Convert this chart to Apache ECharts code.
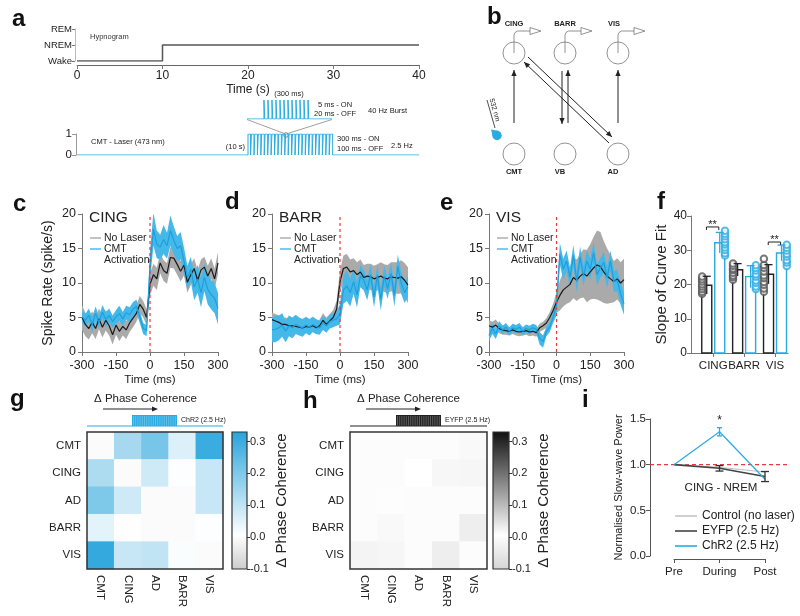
<!DOCTYPE html>
<html>
<head>
<meta charset="utf-8">
<script src="https://cdn.jsdelivr.net/npm/echarts@6/dist/echarts.min.js"></script>
<style>
html,body{margin:0;padding:0;background:#fff;}
#chart{width:800px;height:616px;}
</style>
</head>
<body>
<div id="chart"></div>
<script>
// ================= DATA =================
// Panel a
const hypnoStates = ['Wake', 'NREM', 'REM'];
const hypnoTimes = [0, 10, 10, 40];
const hypnoLevels = [0, 0, 1, 1];
const laserOnsets = [20.0,20.4,20.8,21.2,21.6,22.0,22.4,22.8,23.2,23.6,24.0,24.4,24.8,25.2,25.6,26.0,26.4,26.8,27.2,27.6,28.0,28.4,28.8,29.2,29.6]; // s
const laserOnDur = 0.3; // s
const burstOnsets = [0,25,50,75,100,125,150,175,200,225,250,275]; // ms
const burstOnDur = 5; // ms

// Panels c-e (time bins, ms)
const timeMs = [-300,-285,-270,-255,-240,-225,-210,-195,-180,-165,-150,-135,-120,-105,-90,-75,-60,-45,-30,-15,0,15,30,45,60,75,90,105,120,135,150,165,180,195,210,225,240,255,270,285,300];

const cingNoLaser = [5.0,4.0,3.4,4.3,3.4,4.8,3.6,4.6,3.8,2.5, 3.9,3.0,3.7,3.2,4.2,4.9,5.6,6.9,6.2,5.0, 9.8,11.2,10.6,12.9,11.8,11.4,13.7,13.6,12.7,11.7, 12.6,10.1,11.2,12.1,10.4,11.9,12.3,11.0,12.1,10.6, 12.9];
const cingNoLaserSem = [1.8,1.7,1.6,1.6,1.5,1.5,1.5,1.5,1.4,1.4, 1.4,1.4,1.3,1.3,1.3,1.3,1.2,1.2,1.2,1.2, 1.6,1.6,1.6,1.5,1.5,1.5,1.5,1.5,1.5,1.5, 1.5,1.5,1.5,1.5,1.5,1.5,1.5,1.5,1.5,1.5, 1.6];
const cingCmt = [5.1,4.6,5.3,4.0,5.6,4.3,5.8,4.7,5.3,4.4, 5.1,5.6,4.8,5.7,5.4,6.2,6.6,5.1,3.4,3.1, 12.5,17.8,15.6,15.2,16.3,15.4,17.6,16.2,15.0,15.4, 13.2,10.8,12.0,9.4,10.6,8.6,10.8,9.1,8.3,7.8, 6.3];
const cingCmtSem = [0.9,0.9,1.0,1.1,1.0,0.9,1.0,1.1,1.0,0.9, 1.0,1.1,1.0,1.0,1.1,1.0,1.0,0.9,0.8,0.8, 2.2,2.4,2.0,1.8,2.1,1.9,2.2,2.0,1.8,2.0, 1.9,1.7,1.8,1.9,2.0,2.1,2.0,2.2,2.1,2.2, 2.3];

const barrNoLaser = [4.7,4.5,4.3,4.0,4.0,3.8,3.8,3.7,3.6,3.5, 3.7,3.6,3.8,3.5,3.8,4.6,4.0,4.5,5.0,6.2, 10.2,12.1,12.3,11.6,11.8,11.2,11.6,10.8,11.0,10.9, 10.6,10.8,11.0,10.7,10.6,10.9,10.8,10.7,10.9,10.4, 9.7];
const barrNoLaserSem = [1.0,1.0,1.0,1.0,1.0,0.9,0.9,0.9,0.9,0.9, 0.9,0.9,0.9,0.9,0.9,1.0,1.0,1.0,1.1,1.2, 1.6,1.9,1.9,1.8,1.8,1.8,1.8,1.8,1.8,1.9, 1.9,1.9,2.0,2.0,2.0,2.1,2.2,2.3,2.4,2.5, 2.6];
const barrCmt = [3.2,3.3,3.5,3.9,3.0,3.8,3.5,4.0,3.7,3.5, 3.9,3.6,4.0,3.7,3.5,4.2,3.8,4.4,4.6,4.8, 5.5,9.0,9.6,8.6,10.2,8.3,11.0,10.4,9.0,11.2, 8.0,11.1,7.6,11.0,9.2,11.4,8.2,12.4,10.0,8.6, 9.5];
const barrCmtSem = [1.8,1.9,1.8,1.7,1.6,1.5,1.5,1.4,1.3,1.3, 1.2,1.2,1.1,1.1,1.0,1.0,1.0,1.0,1.0,1.0, 1.5,2.0,2.2,2.0,1.8,1.8,1.6,1.5,1.5,1.5, 1.5,1.5,1.6,1.5,1.5,1.5,1.6,1.7,1.6,1.5, 1.5];

const visNoLaser = [3.8,3.6,3.9,3.4,3.2,3.1,3.0,3.2,3.0,2.9, 3.0,3.1,2.9,3.0,2.8,3.5,3.8,4.2,5.0,6.0, 7.2,8.2,9.0,9.4,9.8,10.8,10.4,11.0,11.4,11.0, 11.6,12.2,12.6,12.4,11.6,11.0,10.6,10.2,10.6,10.0, 10.5];
const visNoLaserSem = [0.8,0.8,0.8,0.7,0.7,0.6,0.6,0.6,0.6,0.6, 0.6,0.6,0.6,0.6,0.6,0.6,0.6,0.7,0.8,1.0, 1.5,2.2,2.4,2.4,2.6,3.0,3.0,3.2,3.5,3.8, 4.0,4.5,5.0,5.0,4.5,4.0,3.5,3.0,3.0,3.0, 3.0];
const visCmt = [2.4,3.4,2.6,3.8,3.2,3.6,3.0,3.5,3.3,3.6, 3.0,3.4,3.2,3.5,3.3,2.0,1.5,3.0,3.6,5.0, 6.8,14.2,12.0,13.2,10.8,14.0,10.2,13.8,11.0,13.2, 12.0,14.4,11.2,12.2,13.0,10.8,13.2,10.2,10.4,8.4, 7.0];
const visCmtSem = [0.8,0.8,0.7,0.7,0.6,0.6,0.6,0.6,0.6,0.6, 0.6,0.6,0.6,0.6,0.6,0.9,0.9,0.7,0.7,0.8, 1.5,1.6,1.5,1.5,1.4,1.5,1.5,1.5,1.4,1.5, 1.5,1.5,1.5,1.4,1.5,1.5,1.5,1.5,1.6,1.6, 1.6];

// Panel f
const fCats = ['CING', 'BARR', 'VIS'];
const fNoLaserMean = [19.8, 24.3, 23.0];
const fNoLaserErr = [2.6, 1.8, 2.8];
const fCmtMean = [32.2, 22.3, 29.2];
const fCmtErr = [3.0, 3.2, 2.3];
const fNoLaserPts = [[17.3,17.9,18.7,19.4,20.1,20.9,21.5,22.3],[21.4,22.1,22.6,23.4,24.2,24.7,25.5,26.1],[17.9,18.8,19.9,20.7,21.9,22.6,23.8,24.9,25.7,27.5]];
const fCmtPts = [[28.5,29.1,30.1,30.8,31.7,32.3,33.2,34.1,34.8,35.7],[18.7,19.4,20.5,21.2,22.3,23.0,24.1,24.8,25.6],[25.4,26.4,27.1,28.2,28.9,29.9,30.7,31.6]];
const fSigGroups = [0, 2];
const fSigLevels = [36.8, 32.4];

// Panels g, h
const regions = ['CMT', 'CING', 'AD', 'BARR', 'VIS'];
const gChR2 = [
  [0.00, 0.14, 0.21, 0.06, 0.30],
  [0.13, 0.00, 0.08, 0.01, 0.09],
  [0.20, 0.08, 0.00, 0.00, 0.09],
  [0.05, 0.005, 0.00, 0.00, 0.01],
  [0.31, 0.09, 0.10, 0.015, 0.00]
];
const hEyfp = [
  [0.00, 0.00, 0.00, 0.00, 0.015],
  [0.00, 0.00, 0.008, 0.018, 0.02],
  [0.00, 0.01, 0.00, 0.012, 0.00],
  [0.00, 0.015, 0.012, 0.00, 0.03],
  [0.022, 0.02, 0.00, 0.03, 0.00]
];
const cbMin = -0.1, cbMax = 0.33;

// Panel i
const iPhases = ['Pre', 'During', 'Post'];
const iControl = [1.0, 0.97, 0.92];
const iEyfp = [1.0, 0.96, 0.87];
const iEyfpErr = [0, 0.03, 0.055];
const iChr2 = [1.0, 1.36, 0.84];
const iChr2Err = [0, 0.045, 0];
const iRefLevel = 1.0;
const iStarPhase = 1, iStarLevel = 1.5;

// ================= STYLE =================
const FONT = '"Liberation Sans", Arial, Helvetica, sans-serif';
const BLUE = '#29abe2';
const BLUE_BAND = '#45b8ea';
const GRAY_BAND = '#aaaaaa';
const AX = '#777';
const TX = '#222';
const gColors = ['#cccccc', '#ffffff', '#b7e0f3', '#6fc2e8', '#27a3dc'];
const hColors = ['#d4d4d4', '#ffffff', '#b0b0b0', '#606060', '#111111'];

function merge(a, b) {
  const o = Object.assign({}, a);
  for (const k in b) {
    const v = b[k];
    if (v && typeof v === 'object' && !Array.isArray(v) && typeof v !== 'function' &&
        a[k] && typeof a[k] === 'object' && !Array.isArray(a[k])) o[k] = merge(a[k], v);
    else o[k] = v;
  }
  return o;
}
function axisBase(extra) {
  return merge({
    splitLine: {show: false},
    axisLine: {show: true, onZero: false, lineStyle: {color: AX, width: 1}},
    axisTick: {show: true, length: 4, lineStyle: {color: AX}},
    axisLabel: {color: TX, fontFamily: FONT, fontSize: 12.5, showMinLabel: true, showMaxLabel: true, hideOverlap: false},
    nameTextStyle: {color: TX, fontFamily: FONT}
  }, extra);
}

// ================= GRIDS =================
const grids = [
  {left: 77, top: 29, width: 342, height: 32},    //0 hypnogram
  {left: 77, top: 134, width: 342, height: 21},   //1 laser
  {left: 247, top: 100, width: 85, height: 19},   //2 burst inset
  {left: 82, top: 214, width: 136, height: 138},  //3 c
  {left: 272, top: 214, width: 136, height: 138}, //4 d
  {left: 489, top: 214, width: 135, height: 138}, //5 e
  {left: 691, top: 216, width: 97, height: 137},  //6 f
  {left: 87, top: 432, width: 136, height: 137},  //7 g
  {left: 232, top: 432, width: 15, height: 137},  //8 g colorbar
  {left: 350, top: 432, width: 137, height: 137}, //9 h
  {left: 493, top: 432, width: 16, height: 137},  //10 h colorbar
  {left: 674, top: 419, width: 91, height: 137},  //11 i
  {left: 650, top: 419, width: 138, height: 137}  //12 i reference line
];

const xAxes = [
  axisBase({type: 'value', gridIndex: 0, min: 0, max: 40, interval: 10, offset: 4, name: 'Time (s)', nameLocation: 'middle', nameGap: 19, nameTextStyle: {fontSize: 12}, axisLabel: {fontSize: 12, margin: 5}, axisLine: {lineStyle: {color: '#666'}}}),
  {type: 'value', gridIndex: 1, min: 0, max: 40, show: false},
  {type: 'value', gridIndex: 2, min: -106, max: 425, show: false},
  ...[3, 4, 5].map(gi => axisBase({type: 'value', gridIndex: gi, min: -300, max: 300, interval: 150, name: 'Time (ms)', nameLocation: 'middle', nameGap: 22, nameTextStyle: {fontSize: 11.5}, axisLabel: {margin: 7}})),
  axisBase({type: 'value', gridIndex: 6, min: -0.72, max: 2.42, axisTick: {customValues: [0, 1, 2]}, axisLabel: {customValues: [0, 1, 2], formatter: v => fCats[Math.round(v)], fontSize: 11.5, margin: 7}}),
  axisBase({type: 'category', gridIndex: 7, data: regions, axisTick: {show: false}, axisLine: {show: false}, axisLabel: {rotate: -90, fontSize: 11.5, margin: 6, interval: 0}}),
  {type: 'value', gridIndex: 8, min: 0, max: 1, show: false},
  axisBase({type: 'category', gridIndex: 9, data: regions, axisTick: {show: false}, axisLine: {show: false}, axisLabel: {rotate: -90, fontSize: 11.5, margin: 6, interval: 0}}),
  {type: 'value', gridIndex: 10, min: 0, max: 1, show: false},
  axisBase({type: 'category', gridIndex: 11, data: iPhases, boundaryGap: false, offset: 3, axisLine: {lineStyle: {color: '#555'}}, axisTick: {lineStyle: {color: '#555'}}, axisLabel: {fontSize: 11.5, margin: 7, interval: 0}}),
  {type: 'value', gridIndex: 12, min: 0, max: 1, show: false}
];

const cbAxis = gi => axisBase({type: 'value', gridIndex: gi, position: 'right', min: cbMin, max: cbMax, interval: 0.1, axisLine: {show: false}, axisTick: {length: 3, lineStyle: {color: '#333'}}, axisLabel: {fontSize: 11, margin: 3, showMaxLabel: false, formatter: v => v.toFixed(1)}, name: 'Δ Phase Coherence', nameLocation: 'middle', nameGap: 27, nameRotate: 90, nameTextStyle: {fontSize: 15}});

const yAxes = [
  axisBase({type: 'value', gridIndex: 0, min: 0, max: 2, interval: 1, offset: 2, axisLine: {lineStyle: {color: '#bbb'}}, axisTick: {length: 3, lineStyle: {color: '#777'}}, axisLabel: {formatter: v => hypnoStates[v], fontSize: 9.5, margin: 3}}),
  axisBase({type: 'value', gridIndex: 1, min: 0, max: 1, interval: 1, offset: 1, axisLine: {lineStyle: {color: '#999'}}, axisTick: {length: 4, lineStyle: {color: '#999'}}, axisLabel: {fontSize: 11.5, margin: 4}}),
  {type: 'value', gridIndex: 2, min: 0, max: 1, show: false},
  ...[3, 4, 5].map((gi, k) => axisBase({type: 'value', gridIndex: gi, min: 0, max: 20, interval: 5, axisLabel: {margin: 6}, name: k === 0 ? 'Spike Rate (spike/s)' : '', nameLocation: 'middle', nameGap: 27, nameTextStyle: {fontSize: 14}})),
  axisBase({type: 'value', gridIndex: 6, min: 0, max: 40, interval: 10, name: 'Slope of Curve Fit', nameLocation: 'middle', nameGap: 17, nameTextStyle: {fontSize: 15}, axisLabel: {fontSize: 12, margin: 4}}),
  axisBase({type: 'category', gridIndex: 7, data: regions, inverse: true, axisTick: {show: false}, axisLine: {show: false}, axisLabel: {fontSize: 11.5, margin: 6, interval: 0}}),
  cbAxis(8),
  axisBase({type: 'category', gridIndex: 9, data: regions, inverse: true, axisTick: {show: false}, axisLine: {show: false}, axisLabel: {fontSize: 11.5, margin: 6, interval: 0}}),
  cbAxis(10),
  axisBase({type: 'value', gridIndex: 11, min: 0, max: 1.5, interval: 0.5, offset: 24, axisLine: {lineStyle: {color: '#555'}}, axisTick: {lineStyle: {color: '#555'}}, axisLabel: {fontSize: 11.5, margin: 4, formatter: v => v.toFixed(1)}, name: 'Normalised Slow-wave Power', nameLocation: 'middle', nameGap: 26, nameTextStyle: {fontSize: 11}}),
  {type: 'value', gridIndex: 12, min: 0, max: 1.5, show: false}
];

// ================= SERIES =================
const series = [];
function idx(gi) { return {xAxisIndex: gi, yAxisIndex: gi}; }

// a: hypnogram
series.push(Object.assign({type: 'line', data: hypnoTimes.map((t, i) => [t, hypnoLevels[i]]), symbol: 'none', lineStyle: {color: '#555', width: 1.5}, silent: true}, idx(0)));
// a: laser
const laserWave = [[0, 0]];
laserOnsets.forEach(t => laserWave.push([t, 0], [t, 1], [t + laserOnDur, 1], [t + laserOnDur, 0]));
laserWave.push([40, 0]);
series.push(Object.assign({type: 'line', data: laserWave, symbol: 'none', lineStyle: {color: BLUE, width: 1}, silent: true}, idx(1)));
const burstWave = [[-106, 0]];
burstOnsets.forEach(t => burstWave.push([t, 0], [t, 1], [t + burstOnDur, 1], [t + burstOnDur, 0]));
burstWave.push([425, 0]);
series.push(Object.assign({type: 'line', data: burstWave, symbol: 'none', lineStyle: {color: BLUE, width: 1}, silent: true}, idx(2)));

// c-e traces
function bandSeries(gi, m, s, color) {
  const data = timeMs.map((t, i) => [t, m[i] - s[i], m[i] + s[i]]);
  return Object.assign({type: 'custom', data, silent: true, clip: true, z: 1,
    renderItem: (p, api) => {
      if (p.dataIndex !== 0) return null;
      const up = data.map(d => api.coord([d[0], d[2]]));
      const lo = data.map(d => api.coord([d[0], d[1]])).reverse();
      return {type: 'polygon', shape: {points: up.concat(lo)}, style: {fill: color}};
    }}, idx(gi));
}
function tracePanel(gi, nl, nlSem, cmt, cmtSem) {
  series.push(bandSeries(gi, nl, nlSem, GRAY_BAND));
  series.push(bandSeries(gi, cmt, cmtSem, BLUE_BAND));
  series.push(Object.assign({type: 'line', name: 'No Laser', data: timeMs.map((t, i) => [t, nl[i]]), symbol: 'none', lineStyle: {color: '#1a1a1a', width: 1.2}, z: 3, silent: true}, idx(gi)));
  series.push(Object.assign({type: 'line', name: 'CMT Activation', data: timeMs.map((t, i) => [t, cmt[i]]), symbol: 'none', lineStyle: {color: '#1e9fdc', width: 1.2}, z: 3, silent: true}, idx(gi)));
  series.push(Object.assign({type: 'line', data: [[0, 0], [0, 20]], symbol: 'none', lineStyle: {color: '#e8393e', width: 1.2, type: [3, 3]}, z: 4, silent: true}, idx(gi)));
}
tracePanel(3, cingNoLaser, cingNoLaserSem, cingCmt, cingCmtSem);
tracePanel(4, barrNoLaser, barrNoLaserSem, barrCmt, barrCmtSem);
tracePanel(5, visNoLaser, visNoLaserSem, visCmt, visCmtSem);

// f
const OFF = 0.21, PT_OFF_BLACK = -0.36, PT_OFF_BLUE = 0.38;
function barRender(color) {
  return (p, api) => {
    const x = api.value(0), v = api.value(1);
    const top = api.coord([x, v]), base = api.coord([x, 0]);
    const w = 10;
    return {type: 'rect', shape: {x: top[0] - w / 2, y: top[1], width: w, height: base[1] - top[1]}, style: {fill: '#fff', stroke: color, lineWidth: 1.4}};
  };
}
function errRender(color, cap, topOnly) {
  return (p, api) => {
    const x = api.value(0), lo = api.value(1), hi = api.value(2);
    const a = api.coord([x, lo]), b = api.coord([x, hi]);
    const ch = [
      {type: 'line', shape: {x1: a[0], y1: a[1], x2: b[0], y2: b[1]}, style: {stroke: color, lineWidth: 1.3}},
      {type: 'line', shape: {x1: b[0] - cap, y1: b[1], x2: b[0] + cap, y2: b[1]}, style: {stroke: color, lineWidth: 1.3}}
    ];
    if (!topOnly) ch.push({type: 'line', shape: {x1: a[0] - cap, y1: a[1], x2: a[0] + cap, y2: a[1]}, style: {stroke: color, lineWidth: 1.3}});
    return {type: 'group', children: ch};
  };
}
series.push(Object.assign({type: 'custom', data: fNoLaserMean.map((v, i) => [i - OFF, v]), renderItem: barRender('#222'), silent: true, z: 2}, idx(6)));
series.push(Object.assign({type: 'custom', data: fCmtMean.map((v, i) => [i + OFF, v]), renderItem: barRender(BLUE), silent: true, z: 2}, idx(6)));
series.push(Object.assign({type: 'scatter', data: fNoLaserPts.flatMap((arr, i) => arr.map(v => [i + PT_OFF_BLACK, v])), symbol: 'emptyCircle', symbolSize: 6.5, itemStyle: {color: '#555', borderWidth: 1}, silent: true, z: 3}, idx(6)));
series.push(Object.assign({type: 'scatter', data: fCmtPts.flatMap((arr, i) => arr.map(v => [i + PT_OFF_BLUE, v])), symbol: 'emptyCircle', symbolSize: 6.5, itemStyle: {color: BLUE, borderWidth: 1}, silent: true, z: 3}, idx(6)));
series.push(Object.assign({type: 'custom', data: fNoLaserMean.map((v, i) => [i - OFF, v - fNoLaserErr[i], v + fNoLaserErr[i]]), renderItem: errRender('#222', 4, true), silent: true, z: 4}, idx(6)));
series.push(Object.assign({type: 'custom', data: fCmtMean.map((v, i) => [i + OFF, v - fCmtErr[i], v + fCmtErr[i]]), renderItem: errRender(BLUE, 4, true), silent: true, z: 4}, idx(6)));
series.push(Object.assign({type: 'custom', data: fSigGroups.map((g, i) => [g, fSigLevels[i]]), silent: true, z: 5,
  renderItem: (p, api) => {
    const g = api.value(0), y = api.value(1);
    const a = api.coord([g - 0.22, y]), b = api.coord([g + 0.18, y]);
    return {type: 'group', children: [
      {type: 'polyline', shape: {points: [[a[0], a[1] + 3], a, b, [b[0], b[1] + 3]]}, style: {stroke: '#222', lineWidth: 1, fill: 'none'}},
      {type: 'text', x: (a[0] + b[0]) / 2, y: a[1] - 2, style: {text: '**', fill: '#222', fontSize: 11, fontFamily: FONT, textAlign: 'center', align: 'center', textVerticalAlign: 'middle', verticalAlign: 'middle'}}
    ]};
  }}, idx(6)));

// g, h heatmaps
const cells = m => { const out = []; m.forEach((row, r) => row.forEach((v, c) => out.push([c, r, v]))); return out; };
const heatG = series.length;
series.push(Object.assign({type: 'heatmap', data: cells(gChR2), emphasis: {disabled: true}, silent: true}, idx(7)));
const frame = gi => Object.assign({type: 'custom', data: [[0, 0]], silent: true, z: 5,
  renderItem: (p) => ({type: 'rect', shape: {x: p.coordSys.x, y: p.coordSys.y, width: p.coordSys.width, height: p.coordSys.height}, style: {fill: 'none', stroke: '#333', lineWidth: 1.5}})}, idx(gi));
series.push(frame(7));
const colorbar = (gi, colors) => Object.assign({type: 'custom', data: [[0, cbMin, 1, cbMax]], silent: true,
  renderItem: (p, api) => {
    const p0 = api.coord([api.value(0), api.value(3)]), p1 = api.coord([api.value(2), api.value(1)]);
    return {type: 'rect', shape: {x: p0[0], y: p0[1], width: p1[0] - p0[0], height: p1[1] - p0[1]},
      style: {fill: new echarts.graphic.LinearGradient(0, 1, 0, 0, colors.map((c, i) => ({offset: i / (colors.length - 1), color: c}))), stroke: '#333', lineWidth: 1.2}};
  }}, idx(gi));
series.push(colorbar(8, gColors));
const heatH = series.length;
series.push(Object.assign({type: 'heatmap', data: cells(hEyfp), emphasis: {disabled: true}, silent: true}, idx(9)));
series.push(frame(9));
series.push(colorbar(10, hColors));

// i
series.push(Object.assign({type: 'line', data: [[0, iRefLevel], [1, iRefLevel]], symbol: 'none', lineStyle: {color: '#e8393e', width: 1.3, type: [4, 3]}, silent: true}, idx(12)));
series.push(Object.assign({type: 'line', name: 'Control (no laser)', data: iControl, symbol: 'none', lineStyle: {color: '#c4c4c4', width: 1.2}, itemStyle: {color: '#c4c4c4'}, silent: true}, idx(11)));
series.push(Object.assign({type: 'line', name: 'EYFP (2.5 Hz)', data: iEyfp, symbol: 'none', lineStyle: {color: '#444', width: 1.6}, itemStyle: {color: '#444'}, silent: true}, idx(11)));
series.push(Object.assign({type: 'line', name: 'ChR2 (2.5 Hz)', data: iChr2, symbol: 'none', lineStyle: {color: BLUE, width: 1.2}, itemStyle: {color: BLUE}, silent: true}, idx(11)));
series.push(Object.assign({type: 'custom', data: iEyfp.map((v, i) => [i, v - iEyfpErr[i], v + iEyfpErr[i]]).filter(d => d[2] > d[1]), renderItem: errRender('#333', 4, false), silent: true, z: 4}, idx(11)));
series.push(Object.assign({type: 'custom', data: iChr2.map((v, i) => [i, v - iChr2Err[i], v + iChr2Err[i]]).filter(d => d[2] > d[1]), renderItem: errRender(BLUE, 2.5, false), silent: true, z: 4}, idx(11)));
series.push(Object.assign({type: 'custom', data: [[iStarPhase, iStarLevel]], silent: true,
  renderItem: (p, api) => { const c = api.coord([api.value(0), api.value(1)]);
    return {type: 'text', x: c[0], y: c[1] + 2, style: {text: '*', fill: '#222', fontSize: 12, fontFamily: FONT, textAlign: 'center', align: 'center', textVerticalAlign: 'middle', verticalAlign: 'middle'}}; }}, idx(11)));

// ================= GRAPHIC (labels, schematics) =================
function T(x, y, text, size, o = {}) {
  return {type: 'text', x, y, rotation: o.rot || 0, silent: true,
    style: {text, fill: o.color || TX, fontSize: size, fontFamily: FONT, fontWeight: o.bold ? 'bold' : 'normal',
      textAlign: o.align || 'left', align: o.align || 'left', textVerticalAlign: 'middle', verticalAlign: 'middle'}};
}
function L(x1, y1, x2, y2, color, lw) { return {type: 'line', silent: true, shape: {x1, y1, x2, y2}, style: {stroke: color, lineWidth: lw || 1}}; }
function head(tx, ty, fx, fy, len, half, color) {
  const dx = tx - fx, dy = ty - fy, d = Math.hypot(dx, dy), ux = dx / d, uy = dy / d;
  const bx = tx - ux * len, by = ty - uy * len;
  return {type: 'polygon', silent: true, shape: {points: [[tx, ty], [bx - uy * half, by + ux * half], [bx + uy * half, by - ux * half]]}, style: {fill: color}};
}
function arrow(x1, y1, x2, y2, color) { return [L(x1, y1, x2, y2, color, 1), head(x2, y2, x1, y1, 6, 2.6, color)]; }
function circ(cx, cy, r, stroke, lw) { return {type: 'circle', silent: true, shape: {cx, cy, r}, style: {fill: 'none', stroke, lineWidth: lw || 0.8}}; }

const G = [];
// panel letters
[['a', 12, 19.5], ['b', 487, 17.5], ['c', 13, 204], ['d', 225, 202.5], ['e', 440, 203], ['f', 657, 202.5], ['g', 10, 399], ['h', 303, 401.5], ['i', 582, 400.5]]
  .forEach(([s, x, y]) => G.push(T(x, y, s, 24, {bold: true, color: '#111'})));

// panel a annotations
G.push(T(90, 37, 'Hypnogram', 7.5, {color: '#333'}));
G.push(T(289, 94, '(300 ms)', 7.5, {align: 'center'}));
G.push(T(335, 105, '5 ms - ON', 7.5, {align: 'center'}));
G.push(T(335, 114, '20 ms - OFF', 7.5, {align: 'center'}));
G.push(T(368, 111, '40 Hz Burst', 7.5));
G.push(T(91, 142, 'CMT - Laser (473 nm)', 7.5));
G.push(T(245, 147, '(10 s)', 7.5, {align: 'right'}));
G.push(T(337, 139, '300 ms - ON', 7.5));
G.push(T(337, 149, '100 ms - OFF', 7.5));
G.push(T(391, 146, '2.5 Hz', 7.5));
G.push(L(247, 119.5, 284.3, 133.5, '#888', 0.8));
G.push(L(332, 119.5, 287.7, 133.5, '#888', 0.8));
G.push(circ(286, 135, 2.3, '#666', 0.8));

// panel b schematic
const topY = 53, botY = 154, R = 11;
const cols = [514, 565, 618];
['CING', 'BARR', 'VIS'].forEach((s, i) => G.push(T(cols[i] - (i === 2 ? 4 : 0), 24, s, 7.5, {bold: true, align: 'center'})));
['CMT', 'VB', 'AD'].forEach((s, i) => G.push(T(cols[i] - (i > 0 ? 5 : 0), 172, s, 7.5, {bold: true, align: 'center'})));
cols.forEach(cx => {
  G.push(circ(cx, topY, R, '#777', 0.8));
  G.push(circ(cx, botY, R, '#777', 0.8));
  G.push({type: 'polyline', silent: true, shape: {points: [[cx, topY], [cx, 35], [cx + 1, 32.5], [cx + 3.5, 31], [cx + 16, 31]]}, style: {stroke: '#777', lineWidth: 0.8, fill: 'none'}});
  G.push({type: 'polygon', silent: true, shape: {points: [[cx + 16, 27.5], [cx + 27, 31], [cx + 16, 34.5]]}, style: {stroke: '#777', lineWidth: 0.8, fill: '#fff'}});
});
G.push(...arrow(514, 123, 514, 70, '#222'));
G.push(...arrow(562, 71, 562, 124, '#222'));
G.push(...arrow(568, 123, 568, 70, '#222'));
G.push(...arrow(618, 123, 618, 70, '#222'));
G.push(...arrow(528, 57, 612, 137, '#222'));
G.push(...arrow(609, 143, 524, 62, '#222'));
G.push(L(487, 100, 495, 128, '#222', 0.8));
G.push(T(494.5, 110, '532 nm', 7, {rot: -1.29, align: 'center'}));
G.push({type: 'circle', silent: true, shape: {cx: 497, cy: 135.5, r: 4.7}, style: {fill: BLUE}});
G.push({type: 'polygon', silent: true, shape: {points: [[491, 129.5], [493, 137], [499, 131]]}, style: {fill: BLUE}});

// c-e titles and legends
[[82, 'CING'], [272, 'BARR'], [489, 'VIS']].forEach(([x0, t]) => {
  G.push(T(x0 + 7, 218, t, 15.5));
  G.push(L(x0 + 8, 238, x0 + 19, 238, '#999', 1.2));
  G.push(T(x0 + 22, 238, 'No Laser', 10.5));
  G.push(L(x0 + 8, 249, x0 + 19, 249, BLUE, 1.2));
  G.push(T(x0 + 22, 249, 'CMT', 10.5));
  G.push(T(x0 + 22, 260.5, 'Activation', 10.5));
});

// g / h headers
function header(x0, x1, blockX, color, stripe, label) {
  G.push(T(x0 + 7, 399, 'Δ Phase Coherence', 11.5));
  G.push(L(x0 + 16, 409, x0 + 67, 409, '#222', 1));
  G.push(head(x0 + 71, 409, x0 + 16, 409, 6, 2.5, '#222'));
  G.push(L(x0, 426, x1, 426, color, 1.2));
  G.push({type: 'rect', silent: true, shape: {x: blockX, y: 415, width: 45, height: 11}, style: {fill: color}});
  for (let s = blockX + 1.5; s < blockX + 45; s += 2.2) G.push(L(s, 416, s, 425.5, stripe, 0.5));
  G.push(T(blockX + 49, 420, label, 7));
}
header(87, 223, 132, BLUE, '#9ad8f3', 'ChR2 (2.5 Hz)');
header(350, 487, 396, '#222', '#999', 'EYFP (2.5 Hz)');

// i annotation
G.push(T(721, 488, 'CING - NREM', 11.5, {align: 'center'}));

// ================= CHART =================
const chart = echarts.init(document.getElementById('chart'), null, {renderer: 'canvas'});
chart.setOption({
  animation: false,
  backgroundColor: '#fff',
  textStyle: {fontFamily: FONT},
  grid: grids,
  xAxis: xAxes,
  yAxis: yAxes,
  visualMap: [
    {type: 'continuous', show: false, seriesIndex: heatG, dimension: 2, min: cbMin, max: cbMax, inRange: {color: gColors}},
    {type: 'continuous', show: false, seriesIndex: heatH, dimension: 2, min: cbMin, max: cbMax, inRange: {color: hColors}}
  ],
  legend: {
    data: ['Control (no laser)', 'EYFP (2.5 Hz)', 'ChR2 (2.5 Hz)'],
    orient: 'vertical', left: 670, top: 505, icon: 'rect', itemWidth: 22, itemHeight: 1.6, itemGap: 3,
    selectedMode: false, textStyle: {fontSize: 12, color: TX, fontFamily: FONT}
  },
  series,
  graphic: {elements: G}
});
</script>
</body>
</html>
